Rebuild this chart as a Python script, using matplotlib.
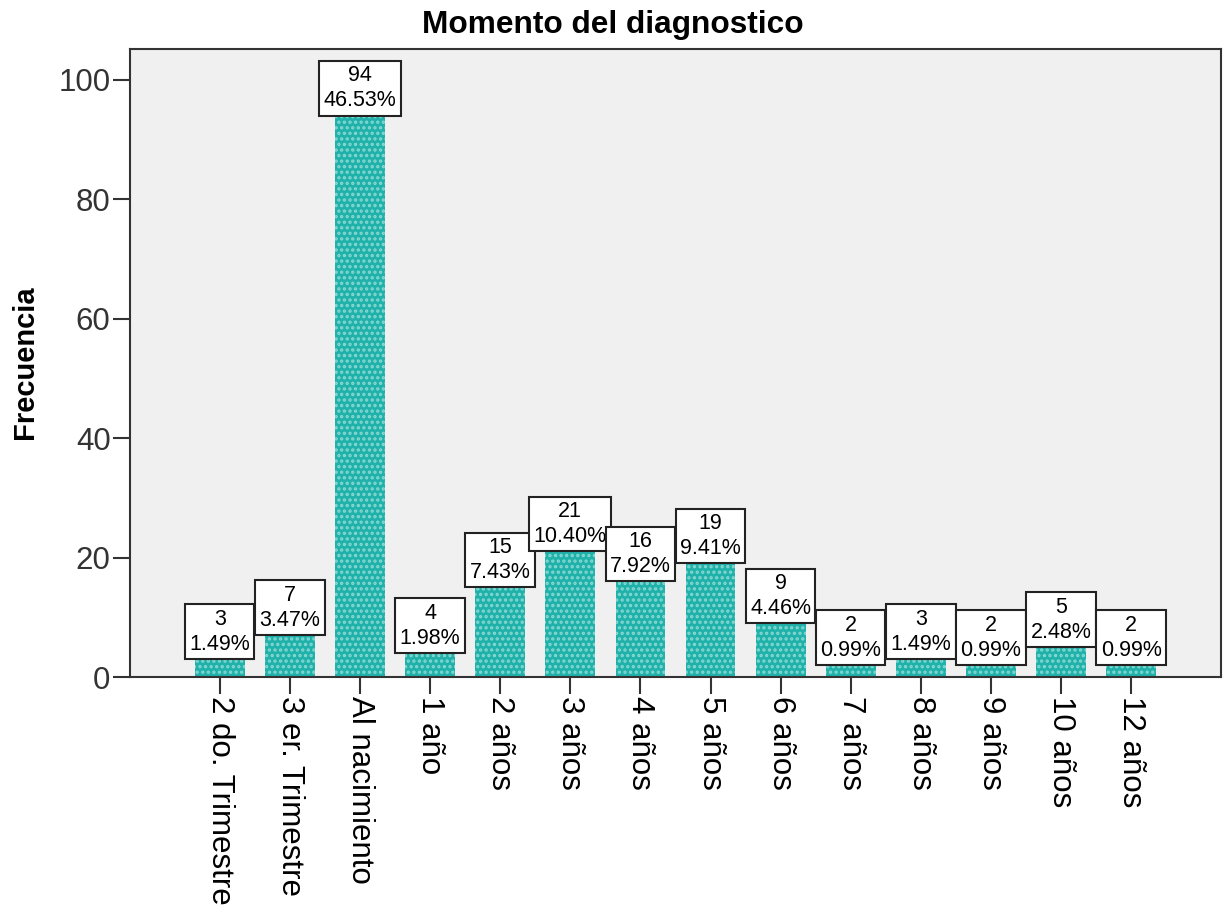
import numpy as np
import matplotlib
matplotlib.use('Agg')
import matplotlib.pyplot as plt

plt.rcParams['font.family'] = ['Liberation Sans', 'DejaVu Sans']
plt.rcParams['hatch.linewidth'] = 1.6

# Categories, frequencies and percentages.
categorias = ['2 do. Trimestre', '3 er. Trimestre', 'Al nacimiento', '1 año', '2 años',
              '3 años', '4 años', '5 años', '6 años', '7 años', '8 años', '9 años',
              '10 años', '12 años']
frecuencia = [3, 7, 94, 4, 15, 21, 16, 19, 9, 2, 3, 2, 5, 2]
porcentaje = [1.49, 3.47, 46.53, 1.98, 7.43, 10.40, 7.92, 9.41, 4.46, 0.99, 1.49, 0.99, 2.48, 0.99]
yticks = [0, 20, 40, 60, 80, 100]

fig = plt.figure(figsize=(12.25, 9.08), dpi=100)
ax = fig.add_axes([0.1061, 0.2544, 0.8906, 0.6911])
ax.set_facecolor('#f0f0f0')

x = np.arange(len(categorias))
ax.bar(x, frecuencia, width=0.71, color='#20b2aa', edgecolor='#86d8d2',
       linewidth=0, hatch='...')

# Value / percentage boxes sitting on top of each bar.
for xi, f, p in zip(x, frecuencia, porcentaje):
    ax.annotate(str(f) + '\n' + '%.2f%%' % p, (xi, f), xytext=(0, 3.2),
                textcoords='offset points', ha='center', va='bottom',
                fontsize=15.5, linespacing=1.25,
                bbox=dict(boxstyle='square,pad=0.2', fc='white', ec='#222222', lw=1.5))

ax.set_xlim(-1.28, 14.28)
ax.set_ylim(0, 105.1)
ax.set_xticks(x)
ax.set_xticklabels(categorias, rotation=270, fontsize=22.5, va='top', ha='center')
ax.set_yticks(yticks)
ax.set_yticklabels([str(t) for t in yticks], fontsize=22.5, color='#333333')
ax.tick_params(axis='both', length=12, width=1.5, color='#333333')
ax.tick_params(axis='x', pad=2)
ax.tick_params(axis='y', pad=2)
for s in ax.spines.values():
    s.set_linewidth(1.5)
    s.set_color('#333333')

fig.text(0.5, 0.973, 'Momento del diagnostico', ha='center', va='center',
         fontsize=22.8, fontweight='bold')
fig.text(0.0204, 0.601, 'Frecuencia', rotation=90, ha='center', va='center',
         fontsize=21, fontweight='bold')

fig.savefig('out.png', dpi=100)
